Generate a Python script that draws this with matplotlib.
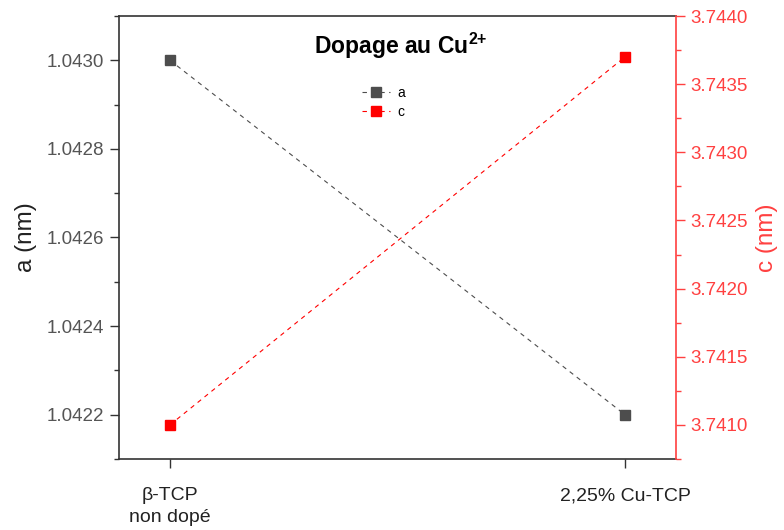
import matplotlib.pyplot as plt
from matplotlib.ticker import MultipleLocator, AutoMinorLocator

plt.rcParams['font.family'] = ['Liberation Sans', 'DejaVu Sans']
plt.rcParams['mathtext.fontset'] = 'custom'
plt.rcParams['mathtext.rm'] = 'Liberation Sans'
plt.rcParams['mathtext.bf'] = 'Liberation Sans:bold'

samples = ["\u03b2-TCP\nnon dop\u00e9", "2,25% Cu-TCP"]
a_nm = [1.0430, 1.0422]
c_nm = [3.7410, 3.7437]

grey = '#4d4d4d'
red = '#ff0000'
axis_red = '#ff4040'

fig = plt.figure(figsize=(7.84, 5.3), dpi=100)
ax = fig.add_axes([0.1518, 0.134, 0.7104, 0.8358])
ax2 = ax.twinx()

x = list(range(len(samples)))
la, = ax.plot(x, a_nm, ls=(0, (4, 4)), lw=0.8, color=grey,
              marker='s', ms=6.5, mfc=grey, mec=grey, label='a')
lc, = ax2.plot(x, c_nm, ls=(0, (4, 4)), lw=0.8, color=red,
               marker='s', ms=6.5, mfc=red, mec=red, label='c')

ax.set_xlim(-0.112, 1.112)
ax.set_ylim(1.0421, 1.04310)
ax2.set_ylim(3.74075, 3.7440)

ax.set_xticks(x)
ax.set_xticklabels(samples, fontsize=14, color='#222222', linespacing=1.35)
ax.yaxis.set_major_locator(MultipleLocator(0.0002))
ax.yaxis.set_minor_locator(AutoMinorLocator(2))
ax.yaxis.set_major_formatter(plt.FormatStrFormatter('%.4f'))
ax2.yaxis.set_major_locator(MultipleLocator(0.0005))
ax2.yaxis.set_minor_locator(AutoMinorLocator(2))
ax2.yaxis.set_major_formatter(plt.FormatStrFormatter('%.4f'))

ax.tick_params(axis='y', which='major', length=6.5, width=1, labelsize=13.5,
               labelcolor='#555555', color='#333333', pad=4)
ax.tick_params(axis='y', which='minor', length=3.5, width=1, color='#333333')
ax.tick_params(axis='x', length=6.5, width=1, color='#333333', pad=14)
ax2.tick_params(axis='y', which='major', length=6.5, width=1, labelsize=13.5,
                labelcolor=axis_red, color=axis_red, pad=4)
ax2.tick_params(axis='y', which='minor', length=3.5, width=1, color=axis_red)

for s in ['left', 'bottom', 'top']:
    ax.spines[s].set_color('#333333')
    ax.spines[s].set_linewidth(1.2)
ax2.spines['right'].set_color(axis_red)
ax2.spines['right'].set_linewidth(1.2)
ax2.spines['left'].set_visible(False)
ax2.spines['top'].set_visible(False)
ax2.spines['bottom'].set_visible(False)
ax.spines['right'].set_visible(False)

ax.set_ylabel('a (nm)', fontsize=17.5, color='#222222', labelpad=7)
ax2.set_ylabel('c (nm)', fontsize=17.5, color=axis_red, labelpad=6)

ax.text(0.506, 0.932, 'Dopage au Cu$^{\\mathbf{2{+}}}$', transform=ax.transAxes,
        ha='center', va='center', fontsize=16.5, fontweight='bold')

ax.legend([la, lc], ['a', 'c'], loc='upper left', bbox_to_anchor=(0.427, 0.855),
          frameon=False, fontsize=10, handlelength=2.0, handletextpad=0.5,
          labelspacing=0.35, borderaxespad=0)

fig.savefig('out.png', dpi=100)
